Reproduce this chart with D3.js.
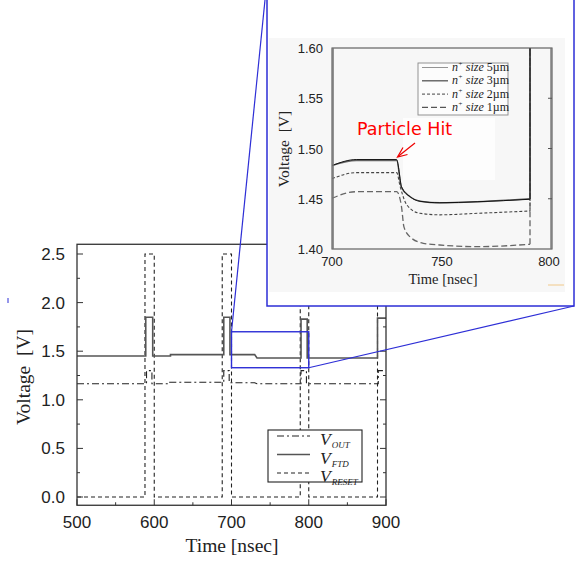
<!DOCTYPE html>
<html>
<head>
<meta charset='utf-8'>
<script src='https://d3js.org/d3.v7.min.js'></script>
<style>
body { margin: 0; background: #fff; }
.num { font-family: 'Liberation Sans', Arial, sans-serif; fill: #222; }
.serif { font-family: 'Liberation Serif', 'Times New Roman', serif; fill: #222; }
</style>
</head>
<body>
<svg id='chart' width='588' height='562'></svg>
<script>
// ---- main chart values ----
var mainTicksX = [500, 600, 700, 800, 900];
var mainTicksY = [0, 0.5, 1, 1.5, 2, 2.5];
var resetPts = [[500,0],[588,0],[588,2.5],[600,2.5],[600,0],[688,0],[688,2.5],[700,2.5],[700,0],
  [789,0],[789,2.5],[800,2.5],[800,0],[889,0],[889,2.5],[900,2.5]];
var ftdPts = [[500,1.45],[589,1.45],[589,1.85],[598,1.85],[598,1.45],[621,1.45],[621,1.465],
  [690,1.465],[690,1.85],[698,1.85],[698,1.465],[730,1.465],[733,1.43],[790,1.43],[790,1.83],
  [798,1.83],[798,1.43],[889,1.43],[889,1.84],[900,1.84]];
var outPts = [[500,1.165],[590,1.165],[590,1.30],[597,1.30],[597,1.165],[620,1.165],[620,1.18],
  [690,1.18],[690,1.30],[697,1.30],[697,1.175],[730,1.175],[733,1.165],[790,1.165],[790,1.30],
  [797,1.30],[797,1.165],[890,1.165],[890,1.30],[900,1.30]];
var zoomT = [700, 800];
var zoomV = [1.33, 1.70];
var mainLegend = ['OUT', 'FTD', 'RESET'];

// ---- inset values ----
var insetTicksX = [700, 750, 800];
var insetTicksY = [1.40, 1.45, 1.50, 1.55, 1.60];
var n5 = [[700,1.483],[711,1.489],[729.4,1.489],[731.6,1.462],[735.5,1.452],[740,1.4475],[749,1.446],[766,1.447],[790,1.4495]];
var n3 = [[700,1.483],[711,1.488],[729.4,1.488],[731.6,1.461],[735.5,1.452],[740,1.4475],[749,1.446],[766,1.447],[790,1.450]];
var n2 = [[700,1.470],[711,1.476],[729.4,1.476],[731,1.462],[734,1.444],[740,1.4355],[749,1.434],[766,1.4355],[790,1.4378]];
var n1 = [[700,1.4505],[711,1.457],[729.4,1.457],[731.6,1.442],[732.7,1.422],[735.5,1.412],[741.5,1.4057],[749,1.404],[766,1.4023],[790,1.4047]];
var insetLegend = ['5\u00b5m', '3\u00b5m', '2\u00b5m', '1\u00b5m'];
var hitLabel = 'Particle Hit';

var svg = d3.select('#chart');
var blue = '#2d2ed6';

// ===== main chart =====
var x = d3.scaleLinear().domain([500, 900]).range([77, 386]);
var y = d3.scaleLinear().domain([0, 2.5]).range([497, 254]);
var top0 = y(2.6), bot0 = y(-0.085);

svg.append('defs').append('clipPath').attr('id', 'clipMain')
  .append('rect').attr('x', x(500)).attr('y', top0)
  .attr('width', x(900) - x(500)).attr('height', bot0 - top0);

var main = svg.append('g');
var line = d3.line().x(function(d) { return x(d[0]); }).y(function(d) { return y(d[1]); });

var plot = main.append('g').attr('clip-path', 'url(#clipMain)');
plot.append('path').datum(resetPts).attr('d', line)
  .attr('fill', 'none').attr('stroke', '#222').attr('stroke-width', 1.1).attr('stroke-dasharray', '4,3');
plot.append('path').datum(outPts).attr('d', line)
  .attr('fill', 'none').attr('stroke', '#222').attr('stroke-width', 1.1).attr('stroke-dasharray', '7,3,2,3');
plot.append('path').datum(ftdPts).attr('d', line)
  .attr('fill', 'none').attr('stroke', '#555').attr('stroke-width', 1.6);

// frame
main.append('rect').attr('x', x(500)).attr('y', top0)
  .attr('width', x(900) - x(500)).attr('height', bot0 - top0)
  .attr('fill', 'none').attr('stroke', '#333').attr('stroke-width', 1.3);

// ticks (inward)
var xt = d3.range(500, 901, 50);
main.selectAll('.xtb').data(xt).enter().append('line')
  .attr('x1', function(d) { return x(d); }).attr('x2', function(d) { return x(d); })
  .attr('y1', bot0).attr('y2', function(d) { return bot0 - (d % 100 === 0 ? 6 : 3); })
  .attr('stroke', '#333');
var ytk = d3.range(0, 2.51, 0.25);
main.selectAll('.ytl').data(ytk).enter().append('line')
  .attr('x1', x(500)).attr('x2', function(d) { return x(500) + (Math.round(d * 4) % 2 === 0 ? 6 : 3); })
  .attr('y1', function(d) { return y(d); }).attr('y2', function(d) { return y(d); })
  .attr('stroke', '#333');
main.selectAll('.ytr').data(ytk).enter().append('line')
  .attr('x1', x(900)).attr('x2', function(d) { return x(900) - (Math.round(d * 4) % 2 === 0 ? 6 : 3); })
  .attr('y1', function(d) { return y(d); }).attr('y2', function(d) { return y(d); })
  .attr('stroke', '#333');

main.selectAll('.xl').data(mainTicksX).enter().append('text')
  .attr('class', 'num').attr('x', function(d) { return x(d); }).attr('y', 528)
  .attr('text-anchor', 'middle').attr('font-size', 17).text(function(d) { return d; });
main.selectAll('.yl').data(mainTicksY).enter().append('text')
  .attr('class', 'num').attr('x', 65).attr('y', function(d) { return y(d) + 6; })
  .attr('text-anchor', 'end').attr('font-size', 17).text(d3.format('.1f'));

main.append('text').attr('class', 'serif').attr('font-size', 19.5)
  .attr('transform', 'translate(30,377) rotate(-90)').attr('text-anchor', 'middle')
  .attr('xml:space', 'preserve').text('Voltage  [V]');
main.append('text').attr('class', 'serif').attr('font-size', 19.5)
  .attr('x', 232).attr('y', 552).attr('text-anchor', 'middle').text('Time [nsec]');

// legend
var lg = main.append('g');
lg.append('rect').attr('x', 268).attr('y', 430).attr('width', 94).attr('height', 52)
  .attr('fill', '#fff').attr('stroke', '#222').attr('stroke-width', 1.1);
var lgDash = ['7,3,2,3', null, '4,3'];
var lgColor = ['#222', '#555', '#222'];
var lgW = [1.1, 1.6, 1.1];
mainLegend.forEach(function(name, i) {
  var yy = 436 + i * 18.5;
  lg.append('line').attr('x1', 277).attr('x2', 310).attr('y1', yy).attr('y2', yy)
    .attr('stroke', lgColor[i]).attr('stroke-width', lgW[i]).attr('stroke-dasharray', lgDash[i]);
  var t = lg.append('text').attr('class', 'serif').attr('x', 320).attr('y', yy + 9)
    .attr('font-style', 'italic').attr('font-size', 17.5).text('V');
  t.append('tspan').attr('dy', 3).attr('dx', 1).attr('font-size', 9).text(name);
});

// zoom box on main chart
main.append('rect').attr('x', x(zoomT[0])).attr('y', y(zoomV[1]))
  .attr('width', x(zoomT[1]) - x(zoomT[0])).attr('height', y(zoomV[0]) - y(zoomV[1]))
  .attr('fill', 'none').attr('stroke', blue).attr('stroke-width', 1.4);

// ===== inset =====
var panel = { x0: 267, x1: 574, y0: -10, y1: 306 };
svg.append('rect').attr('x', panel.x0).attr('y', panel.y0)
  .attr('width', panel.x1 - panel.x0).attr('height', panel.y1 - panel.y0)
  .attr('fill', '#fff').attr('stroke', blue).attr('stroke-width', 1.5);
// pasted picture background
svg.append('rect').attr('x', 269).attr('y', 38).attr('width', 296).attr('height', 254).attr('fill', '#f7f7f7');
svg.append('rect').attr('x', 403).attr('y', 118).attr('width', 92).attr('height', 62).attr('fill', '#fdfdfd');

// connector lines
svg.append('line').attr('x1', x(zoomT[0])).attr('y1', y(zoomV[1])).attr('x2', panel.x0 - 1).attr('y2', panel.y0)
  .attr('stroke', blue).attr('stroke-width', 1.2);
svg.append('line').attr('x1', x(zoomT[1])).attr('y1', y(zoomV[0])).attr('x2', panel.x1).attr('y2', panel.y1)
  .attr('stroke', blue).attr('stroke-width', 1.2);

var xi = d3.scaleLinear().domain([700, 800]).range([332, 552]);
var yi = d3.scaleLinear().domain([1.40, 1.60]).range([249, 48]);

svg.select('defs').append('clipPath').attr('id', 'clipInset')
  .append('rect').attr('x', 332).attr('y', 48).attr('width', 220).attr('height', 201);

var ins = svg.append('g');
var iline = d3.line().x(function(d) { return xi(d[0]); }).y(function(d) { return yi(d[1]); })
  .curve(d3.curveMonotoneX);
var ip = ins.append('g').attr('clip-path', 'url(#clipInset)');
var series = [
  { d: n2, c: '#444', w: 1.1, dash: '3,2' },
  { d: n1, c: '#666', w: 1.3, dash: '6,3' },
  { d: n3, c: '#666', w: 1.5, dash: null },
  { d: n5, c: '#111', w: 1.0, dash: null }
];
series.forEach(function(s) {
  ip.append('path').datum(s.d).attr('d', iline)
    .attr('fill', 'none').attr('stroke', s.c).attr('stroke-width', s.w).attr('stroke-dasharray', s.dash);
  var last = s.d[s.d.length - 1];
  ip.append('line').attr('x1', xi(last[0])).attr('x2', xi(last[0]))
    .attr('y1', yi(last[1])).attr('y2', yi(1.65))
    .attr('stroke', s.c).attr('stroke-width', s.w).attr('stroke-dasharray', s.dash);
});

ins.append('rect').attr('x', 332).attr('y', 48).attr('width', 220).attr('height', 201)
  .attr('fill', 'none').attr('stroke', '#555').attr('stroke-width', 1.1);
ins.append('line').attr('x1', 333).attr('x2', 333).attr('y1', 48).attr('y2', 249)
  .attr('stroke', '#777').attr('stroke-width', 1.6);
ins.append('line').attr('x1', 551).attr('x2', 551).attr('y1', 48).attr('y2', 249)
  .attr('stroke', '#777').attr('stroke-width', 1.4);

ins.selectAll('.iyt').data(insetTicksY.slice(1, 4)).enter().append('line')
  .attr('x1', 552).attr('x2', 548).attr('y1', function(d) { return yi(d); }).attr('y2', function(d) { return yi(d); })
  .attr('stroke', '#555');

ins.selectAll('.ixl').data(insetTicksX).enter().append('text')
  .attr('class', 'num').attr('font-size', 13).attr('text-anchor', 'middle')
  .attr('x', function(d, i) { return xi(d) - (i === 2 ? 3 : 0); }).attr('y', 266).text(function(d) { return d; });
ins.selectAll('.iyl').data(insetTicksY).enter().append('text')
  .attr('class', 'num').attr('font-size', 13).attr('text-anchor', 'end')
  .attr('x', 323).attr('y', function(d) { return yi(d) + 5; }).text(d3.format('.2f'));

ins.append('text').attr('class', 'serif').attr('font-size', 15.5)
  .attr('transform', 'translate(289,149) rotate(-90)').attr('text-anchor', 'middle')
  .attr('xml:space', 'preserve').text('Voltage  [V]');
ins.append('text').attr('class', 'serif').attr('font-size', 14.5)
  .attr('x', 443).attr('y', 284).attr('text-anchor', 'middle').text('Time [nsec]');

// inset legend
var il = ins.append('g');
il.append('rect').attr('x', 418).attr('y', 63).attr('width', 90).attr('height', 52)
  .attr('fill', '#fcfcfc').attr('stroke', '#888').attr('stroke-width', 0.9);
var ilStyle = [
  { c: '#888', w: 0.9, dash: null },
  { c: '#555', w: 1.3, dash: null },
  { c: '#444', w: 1.0, dash: '3,2' },
  { c: '#555', w: 1.2, dash: '6,3' }
];
insetLegend.forEach(function(name, i) {
  var yy = 67.5 + i * 13.3;
  il.append('line').attr('x1', 422).attr('x2', 448).attr('y1', yy).attr('y2', yy)
    .attr('stroke', ilStyle[i].c).attr('stroke-width', ilStyle[i].w).attr('stroke-dasharray', ilStyle[i].dash);
  var t = il.append('text').attr('class', 'serif').attr('font-size', 12)
    .attr('x', 452).attr('y', yy + 3.5).attr('font-style', 'italic').attr('xml:space', 'preserve');
  t.append('tspan').text('n');
  t.append('tspan').attr('dy', -5).attr('font-size', 7).text('+');
  t.append('tspan').attr('dy', 5).text(' size ');
  t.append('tspan').attr('font-style', 'normal').text(name);
});

// annotation
ins.append('text').attr('x', 357).attr('y', 135)
  .attr('font-family', "'Comic Sans MS', 'DejaVu Sans', sans-serif").attr('font-size', 17.5)
  .attr('fill', '#f00').text(hitLabel);
ins.append('line').attr('x1', 415).attr('y1', 143).attr('x2', 398).attr('y2', 156.5)
  .attr('stroke', '#e00').attr('stroke-width', 1.2);
ins.append('path').attr('d', 'M403,147.5 L397.5,157 L407.5,154.5')
  .attr('fill', 'none').attr('stroke', '#e00').attr('stroke-width', 1.2);

// small artefacts
svg.append('line').attr('x1', 548).attr('x2', 564).attr('y1', 285).attr('y2', 285)
  .attr('stroke', '#f1c98a').attr('stroke-width', 1);
svg.append('line').attr('x1', 8).attr('x2', 8).attr('y1', 298).attr('y2', 303)
  .attr('stroke', blue).attr('stroke-width', 1);
</script>
</body>
</html>
